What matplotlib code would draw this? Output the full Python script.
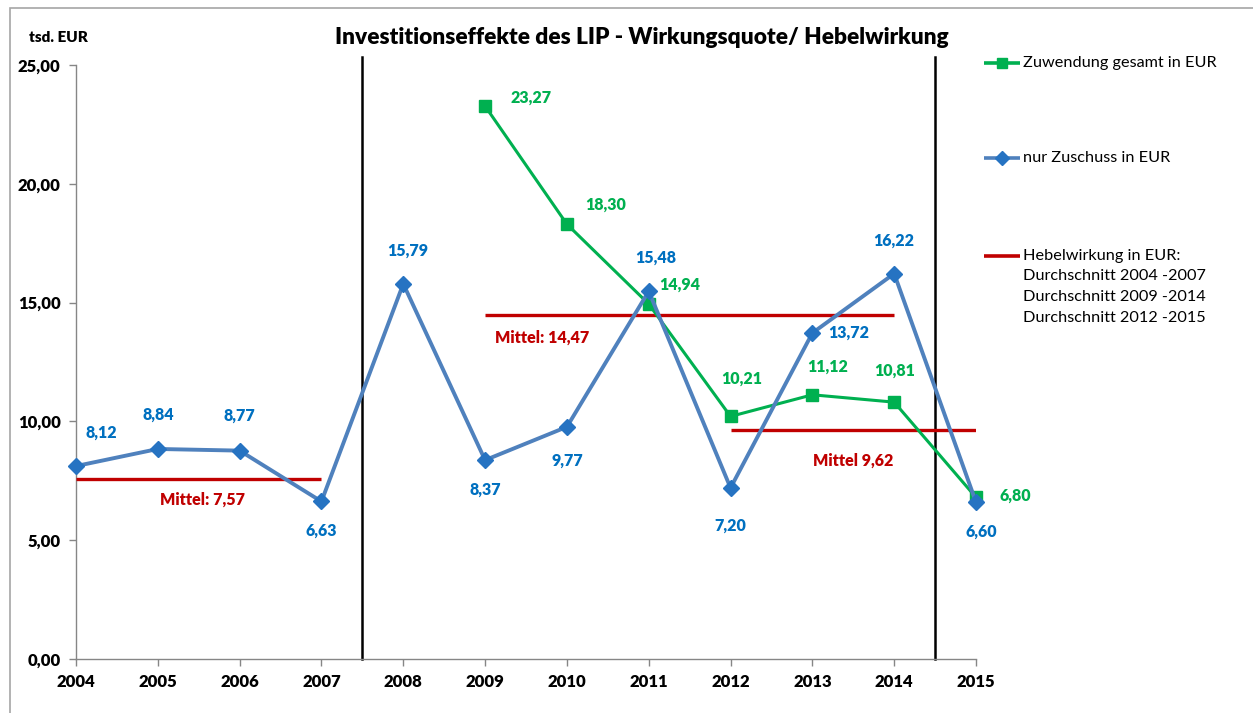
import matplotlib
matplotlib.use("Agg")
from matplotlib import pyplot, ticker
from matplotlib.lines import Line2D
from matplotlib.patches import Rectangle

# data
years = [2004, 2005, 2006, 2007, 2008, 2009, 2010, 2011, 2012, 2013, 2014, 2015]
zuschuss = [8.12, 8.84, 8.77, 6.63, 15.79, 8.37, 9.77, 15.48, 7.20, 13.72, 16.22, 6.60]
gesamt_years = [2009, 2010, 2011, 2012, 2013, 2014, 2015]
gesamt = [23.27, 18.30, 14.94, 10.21, 11.12, 10.81, 6.80]
mittel_spans = [(2004, 2007), (2009, 2014), (2012, 2015)]
mittel_values = [7.57, 14.47, 9.62]
mittel_labels = ["Mittel: 7,57", "Mittel: 14,47", "Mittel 9,62"]
separators = [2007.5, 2014.5]

pyplot.rcParams["font.family"] = ["Lato", "DejaVu Sans"]

GREEN = "#00B050"
BLUE_LINE = "#4F81BD"
BLUE_MARK = "#2673C2"
BLUE_TEXT = "#0070C0"
RED = "#C00000"
GRAY = "#868686"
W = "heavy"

figure = pyplot.figure(figsize=(12.53, 7.13), dpi=100)
axis = figure.add_axes([76 / 1253, 1 - 659 / 713, 900 / 1253, 594 / 713])

def fmt(v):
    return f"{v:.2f}".replace(".", ",")

# separators
for x in separators:
    axis.plot([x, x], [0, 25.35], color="black", lw=1.8, clip_on=False, zorder=2)

# mean lines
for (a, b), v in zip(mittel_spans, mittel_values):
    axis.plot([a, b], [v, v], color=RED, lw=2.4, solid_capstyle="butt", zorder=3)

axis.plot(gesamt_years, gesamt, color=GREEN, lw=2.2, marker="s", markersize=8.5,
          markerfacecolor=GREEN, markeredgecolor=GREEN, clip_on=False, zorder=4)
axis.plot(years, zuschuss, color=BLUE_LINE, lw=2.8, marker="D", markersize=8,
          markerfacecolor=BLUE_MARK, markeredgecolor=BLUE_MARK, clip_on=False, zorder=5)

# data labels: offsets in points (dx, dy)
blue_off = [(18, 24), (0, 25), (0, 25), (0, -21), (3, 24), (0, -21),
            (0, -24), (5, 24), (0, -27), (26, 0), (0, 24), (4, -21)]
for x, v, (dx, dy) in zip(years, zuschuss, blue_off):
    axis.annotate(fmt(v), (x, v), xytext=(dx, dy), textcoords="offset points",
                  ha="center", va="center", color=BLUE_TEXT, fontsize=11.5,
                  fontweight=W, zorder=6)
green_off = [(33, 6), (28, 14), (22, 14), (8, 27), (11, 20), (0, 23), (28, 1)]
for x, v, (dx, dy) in zip(gesamt_years, gesamt, green_off):
    axis.annotate(fmt(v), (x, v), xytext=(dx, dy), textcoords="offset points",
                  ha="center", va="center", color=GREEN, fontsize=11.5,
                  fontweight=W, zorder=6)
# mean labels: anchor x in data units, offset below the line in points
mittel_x = [2005.55, 2009.7, 2013.5]
mittel_dy = [-15, -16, -22]
for x, v, t, dy in zip(mittel_x, mittel_values, mittel_labels, mittel_dy):
    axis.annotate(t, (x, v), xytext=(0, dy), textcoords="offset points",
                  ha="center", va="center", color=RED, fontsize=11.5,
                  fontweight=W)

axis.set_xlim(2004, 2015)
axis.set_ylim(0, 25)
axis.set_xticks(years)
axis.yaxis.set_major_locator(ticker.MultipleLocator(5))
axis.yaxis.set_major_formatter(ticker.FuncFormatter(lambda v, p: fmt(v)))
for s in ("top", "right"):
    axis.spines[s].set_visible(False)
for s in ("left", "bottom"):
    axis.spines[s].set_color(GRAY)
    axis.spines[s].set_linewidth(1.0)
axis.tick_params(axis="both", direction="out", length=5, color=GRAY, width=1.0,
                 labelsize=12)
axis.tick_params(axis="y", pad=6)
axis.tick_params(axis="x", pad=6)
for lab in axis.get_xticklabels() + axis.get_yticklabels():
    lab.set_fontweight(W)

figure.text(642 / 1253, 1 - 37 / 713, "Investitionseffekte des LIP - Wirkungsquote/ Hebelwirkung",
            ha="center", va="center", fontsize=16.3, fontweight=W)
figure.text(58 / 1253, 1 - 37 / 713, "tsd. EUR", ha="center", va="center",
            fontsize=11, fontweight=W)

# legend drawn by hand
def fx(px):
    return px / 1253

def fy(py):
    return 1 - py / 713

legend_items = [
    (63, GREEN, "s", GREEN, "Zuwendung gesamt in EUR"),
    (158, BLUE_LINE, "D", BLUE_MARK, "nur Zuschuss in EUR"),
    (256, RED, None, None, "Hebelwirkung in EUR:"),
]
for py, col, mk, mcol, txt in legend_items:
    figure.add_artist(Line2D([fx(984), fx(1020)], [fy(py), fy(py)], color=col,
                             lw=2.6, solid_capstyle="butt"))
    if mk:
        figure.add_artist(Line2D([fx(1002)], [fy(py)], marker=mk, markersize=7,
                                 color=mcol, markeredgecolor=mcol))
    figure.text(fx(1023), fy(py), txt, ha="left", va="center", fontsize=11.7)
for i, t in enumerate(["Durchschnitt 2004 -2007", "Durchschnitt 2009 -2014",
                       "Durchschnitt 2012 -2015"]):
    figure.text(fx(1023), fy(276 + i * 21), t, ha="left", va="center", fontsize=11.7)

# outer frame (cut by the image edge)
figure.add_artist(Rectangle((fx(10), -0.2), 1.2, fy(8) + 0.2, fill=False,
                            edgecolor="#A6A6A6", lw=1.2, transform=figure.transFigure))

pyplot.savefig("out.png", dpi=100)
